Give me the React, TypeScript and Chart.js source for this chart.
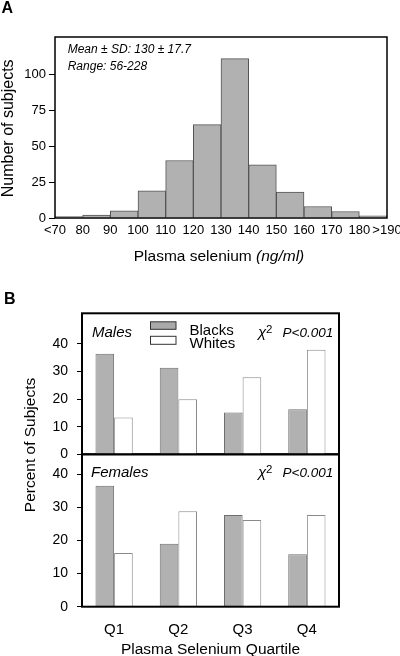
import React, { useEffect, useRef } from 'react';
import { Chart, registerables } from 'chart.js';

Chart.register(...registerables);

const FONT = '"Liberation Sans", Arial, Helvetica, sans-serif';

// ---------- Panel A data ----------
const histEdgeLabels = ['<70', '80', '90', '100', '110', '120', '130', '140', '150', '160', '170', '180', '>190'];
const histCounts = [1, 2, 5, 19, 40, 65, 111, 37, 18, 8, 4.5, 1.5];
const histYTicks = [0, 25, 50, 75, 100];
const histYMax = 126;
const histStats = ['Mean \u00B1 SD: 130 \u00B1 17.7', 'Range: 56-228'];
const histXTitle = ['Plasma selenium ', '(ng/ml)'];
const histYTitle = 'Number of subjects';

// ---------- Panel B data ----------
const quartiles = ['Q1', 'Q2', 'Q3', 'Q4'];
const seriesNames = ['Blacks', 'Whites'];
const malesBlacks = [36.4, 31.3, 15.1, 16.3];
const malesWhites = [13.3, 19.9, 27.9, 37.8];
const femalesBlacks = [36.5, 19.0, 27.7, 15.8];
const femalesWhites = [16.2, 28.8, 26.2, 27.7];
const percentYTicks = [0, 10, 20, 30, 40];
const malesYMax = 51;
const femalesYMax = 46;
const groupLabels = ['Males', 'Females'];
const chiLabel = '\u03C7';
const chiPower = '2';
const pValue = 'P<0.001';
const bYTitle = 'Percent of Subjects';
const bXTitle = 'Plasma Selenium Quartile';
const panelLetters = ['A', 'B'];

const B_TOP = 280;
const B_H = 376;

const GRAY = '#b1b1b1';

function drawText(ctx: CanvasRenderingContext2D, s: string, x: number, y: number, font: string, align: CanvasTextAlign = 'left') {
  ctx.save();
  ctx.font = font;
  ctx.fillStyle = '#000';
  ctx.textAlign = align;
  ctx.textBaseline = 'alphabetic';
  ctx.fillText(s, x, y);
  ctx.restore();
}

function drawRotated(ctx: CanvasRenderingContext2D, s: string, x: number, y: number, font: string) {
  ctx.save();
  ctx.translate(x, y);
  ctx.rotate(-Math.PI / 2);
  ctx.font = font;
  ctx.fillStyle = '#000';
  ctx.textAlign = 'center';
  ctx.textBaseline = 'alphabetic';
  ctx.fillText(s, 0, 0);
  ctx.restore();
}

function drawChiP(ctx: CanvasRenderingContext2D, x: number, y: number) {
  drawText(ctx, chiLabel, x, y, `italic 15px ${FONT}`);
  drawText(ctx, chiPower, x + 8, y - 4, `11.5px ${FONT}`);
  drawText(ctx, pValue, x + 24.5, y, `italic 13.5px ${FONT}`);
}

const panelAPlugin = {
  id: 'panelA',
  afterDraw(chart: any) {
    const ctx: CanvasRenderingContext2D = chart.ctx;
    const ca = chart.chartArea;
    ctx.save();
    ctx.strokeStyle = '#000';
    ctx.lineWidth = 1.5;
    ctx.strokeRect(ca.left, ca.top, ca.right - ca.left, ca.bottom - ca.top);
    ctx.restore();
    drawText(ctx, histStats[0], ca.left + 12.7, ca.top + 16.3, `italic 12px ${FONT}`);
    drawText(ctx, histStats[1], ca.left + 12.7, ca.top + 33, `italic 12px ${FONT}`);
    drawText(ctx, panelLetters[0], 1.5, 12.7, `bold 16px ${FONT}`);
    ctx.save();
    ctx.font = `15.5px ${FONT}`;
    const w1 = ctx.measureText(histXTitle[0]).width;
    ctx.font = `italic 15.5px ${FONT}`;
    const w2 = ctx.measureText(histXTitle[1]).width;
    ctx.restore();
    const cx = (ca.left + ca.right) / 2 - 2;
    const sx = cx - (w1 + w2) / 2;
    drawText(ctx, histXTitle[0], sx, 261, `15.5px ${FONT}`);
    drawText(ctx, histXTitle[1], sx + w1, 261, `italic 15.5px ${FONT}`);
    drawRotated(ctx, histYTitle, 12.5, 128.3, `16px ${FONT}`);
  },
};

const malesPlugin = {
  id: 'males',
  afterDraw(chart: any) {
    const ctx: CanvasRenderingContext2D = chart.ctx;
    const ca = chart.chartArea;
    ctx.save();
    ctx.strokeStyle = '#000';
    ctx.lineWidth = 2;
    ctx.strokeRect(ca.left, ca.top, ca.right - ca.left, ca.bottom - ca.top);
    ctx.lineWidth = 1;
    ctx.fillStyle = '#a9a9a9';
    ctx.strokeStyle = '#333';
    ctx.fillRect(ca.left + 68.5, ca.top + 8.5, 25.5, 7.5);
    ctx.strokeRect(ca.left + 68.5, ca.top + 8.5, 25.5, 7.5);
    ctx.fillStyle = '#fff';
    ctx.fillRect(ca.left + 68.5, ca.top + 23, 25.5, 8);
    ctx.strokeRect(ca.left + 68.5, ca.top + 23, 25.5, 8);
    ctx.restore();
    drawText(ctx, seriesNames[0], ca.left + 107.5, ca.top + 21.2, `15px ${FONT}`);
    drawText(ctx, seriesNames[1], ca.left + 107.5, ca.top + 34.4, `15px ${FONT}`);
    drawText(ctx, groupLabels[0], ca.left + 10, ca.top + 24, `italic 15px ${FONT}`);
    drawChiP(ctx, ca.right - 81, ca.top + 23.7);
    drawText(ctx, panelLetters[1], 4, 304 - B_TOP, `bold 16px ${FONT}`);
    drawRotated(ctx, bYTitle, 35, 445 - B_TOP, `15.5px ${FONT}`);
    drawText(ctx, bXTitle, 210.5, 654 - B_TOP, `15.5px ${FONT}`, 'center');
  },
};

const femalesPlugin = {
  id: 'females',
  afterDraw(chart: any) {
    const ctx: CanvasRenderingContext2D = chart.ctx;
    const ca = chart.chartArea;
    ctx.save();
    ctx.strokeStyle = '#000';
    ctx.lineWidth = 2;
    ctx.strokeRect(ca.left, ca.top, ca.right - ca.left, ca.bottom - ca.top);
    ctx.restore();
    drawText(ctx, groupLabels[1], ca.left + 9, ca.top + 22.7, `italic 15px ${FONT}`);
    drawChiP(ctx, ca.right - 81, ca.top + 22.4);
  },
};

function percentYScale(max: number) {
  return {
    min: 0,
    max,
    grid: { drawOnChartArea: false, drawTicks: true, tickLength: 5, color: '#000', lineWidth: 1 },
    border: { display: false },
    ticks: { color: '#000', font: { size: 14, family: FONT }, padding: 9 },
    afterBuildTicks: (s: any) => {
      s.ticks = percentYTicks.map((v) => ({ value: v }));
    },
    afterFit: (s: any) => {
      s.width = 82;
    },
  };
}

function barDatasets(blacks: number[], whites: number[]) {
  return [
    {
      label: seriesNames[0],
      data: blacks,
      backgroundColor: GRAY,
      borderColor: '#6e6e6e',
      borderWidth: 1,
      barPercentage: 1,
      categoryPercentage: 0.58,
    },
    {
      label: seriesNames[1],
      data: whites,
      backgroundColor: '#ffffff',
      borderColor: '#8a8a8a',
      borderWidth: 1,
      barPercentage: 1,
      categoryPercentage: 0.58,
    },
  ];
}

export default function App() {
  const aRef = useRef<HTMLCanvasElement>(null);
  const mRef = useRef<HTMLCanvasElement>(null);
  const fRef = useRef<HTMLCanvasElement>(null);

  useEffect(() => {
    Chart.defaults.font.family = FONT;
    Chart.defaults.color = '#000';

    const chartA = new Chart(aRef.current as HTMLCanvasElement, {
      type: 'bar',
      data: {
        datasets: [
          {
            data: histCounts.map((v, i) => ({ x: i + 0.5, y: v })),
            backgroundColor: GRAY,
            borderColor: '#555555',
            borderWidth: 1,
            barPercentage: 1,
            categoryPercentage: 1,
          } as any,
        ],
      },
      options: {
        responsive: false,
        animation: false,
        events: [],
        layout: { padding: { top: 37, right: 13, left: 0, bottom: 0 } },
        plugins: { legend: { display: false }, tooltip: { enabled: false } },
        scales: {
          x: {
            type: 'linear',
            min: 0,
            max: 12,
            offset: false,
            grid: { display: false, drawTicks: false },
            border: { display: false },
            ticks: {
              stepSize: 1,
              autoSkip: false,
              maxRotation: 0,
              color: '#000',
              font: { size: 13, family: FONT },
              padding: 5,
              callback: (v: any) => histEdgeLabels[v] ?? '',
            },
            afterFit: (s: any) => {
              s.height = 52;
              s.paddingLeft = 0;
              s.paddingRight = 0;
            },
          } as any,
          y: {
            min: 0,
            max: histYMax,
            grid: { drawOnChartArea: false, drawTicks: true, tickLength: 6, color: '#000' },
            border: { display: false },
            ticks: { color: '#000', font: { size: 13, family: FONT }, padding: 3 },
            afterBuildTicks: (s: any) => {
              s.ticks = histYTicks.map((v) => ({ value: v }));
            },
            afterFit: (s: any) => {
              s.width = 55;
            },
          } as any,
        },
      },
      plugins: [panelAPlugin],
    });

    const chartM = new Chart(mRef.current as HTMLCanvasElement, {
      type: 'bar',
      data: { labels: quartiles, datasets: barDatasets(malesBlacks, malesWhites) as any },
      options: {
        responsive: false,
        animation: false,
        events: [],
        layout: { padding: { top: 313.3 - B_TOP, right: 61, left: 0, bottom: B_TOP + B_H - 454.3 } },
        plugins: { legend: { display: false }, tooltip: { enabled: false } },
        scales: {
          x: { display: false },
          y: percentYScale(malesYMax) as any,
        },
      },
      plugins: [malesPlugin],
    });

    const chartF = new Chart(fRef.current as HTMLCanvasElement, {
      type: 'bar',
      data: { labels: quartiles, datasets: barDatasets(femalesBlacks, femalesWhites) as any },
      options: {
        responsive: false,
        animation: false,
        events: [],
        layout: { padding: { top: 454.3 - B_TOP, right: 61, left: 0, bottom: 0 } },
        plugins: { legend: { display: false }, tooltip: { enabled: false } },
        scales: {
          x: {
            grid: { display: false, drawTicks: false },
            border: { display: false },
            ticks: { color: '#000', font: { size: 15, family: FONT }, padding: 14, maxRotation: 0 },
            afterFit: (s: any) => {
              s.height = B_TOP + B_H - 606.7;
            },
          } as any,
          y: percentYScale(femalesYMax) as any,
        },
      },
      plugins: [femalesPlugin],
    });

    return () => {
      chartA.destroy();
      chartM.destroy();
      chartF.destroy();
    };
  }, []);

  return (
    <div style={{ position: 'fixed', left: 0, top: 0, width: 400, height: 656, background: '#fff', overflow: 'hidden' }}>
      <canvas
        ref={aRef}
        width={400}
        height={270}
        style={{ position: 'absolute', left: 0, top: 0, width: 400, height: 270, display: 'block' }}
      />
      <canvas
        ref={fRef}
        width={400}
        height={B_H}
        style={{ position: 'absolute', left: 0, top: B_TOP, width: 400, height: B_H, display: 'block' }}
      />
      <canvas
        ref={mRef}
        width={400}
        height={B_H}
        style={{ position: 'absolute', left: 0, top: B_TOP, width: 400, height: B_H, display: 'block' }}
      />
    </div>
  );
}
